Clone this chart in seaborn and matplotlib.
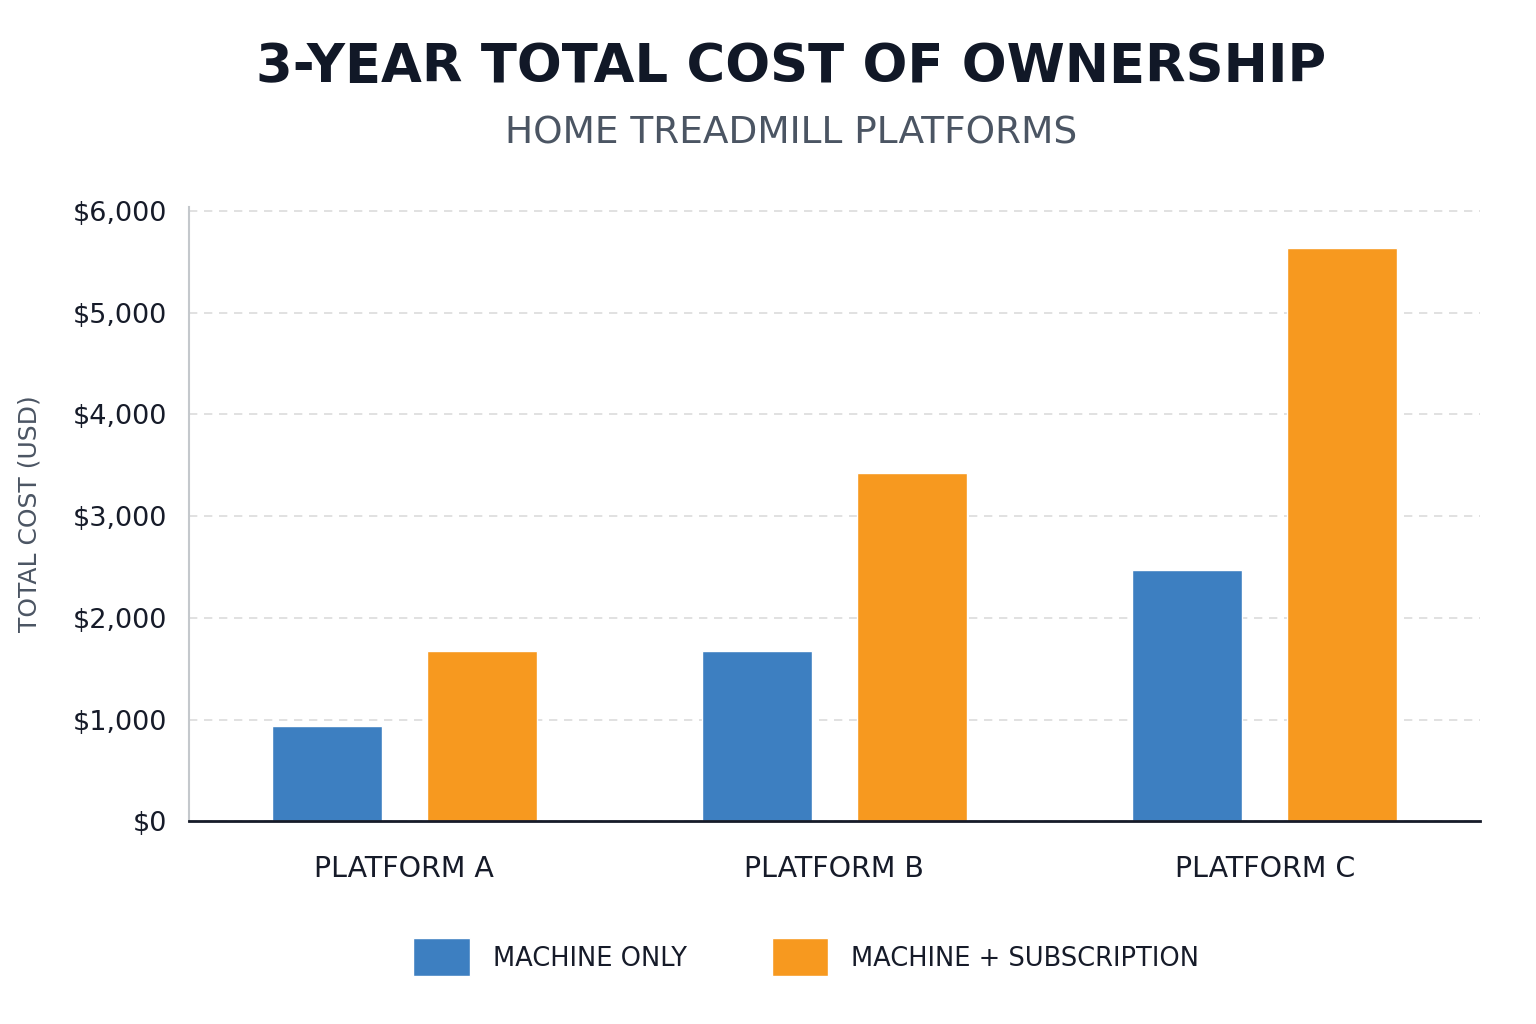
import pandas as pd
import matplotlib.pyplot as plt
import seaborn as sns
from matplotlib.ticker import FuncFormatter

# данные
platforms = ['PLATFORM A', 'PLATFORM B', 'PLATFORM C']
machine_only = [940, 1670, 2470]
machine_sub = [1670, 3420, 5640]
series = ['MACHINE ONLY', 'MACHINE + SUBSCRIPTION']
colors = ['#3d7fc1', '#f7991f']

df = pd.DataFrame({
    'Platform': platforms * 2,
    'Plan': [series[0]] * 3 + [series[1]] * 3,
    'Cost': machine_only + machine_sub,
})

sns.set_theme(style='white')
plt.rcParams['font.family'] = ['DejaVu Sans']

fig = plt.figure(figsize=(15.36, 10.24), dpi=100)
ax = fig.add_axes([0.123, 0.198, 0.8405, 0.600])

sns.barplot(data=df, x='Platform', y='Cost', hue='Plan', palette=colors,
            width=0.72, gap=0.29, saturation=1, ax=ax, errorbar=None)

ax.set_ylim(0, 6040)
ax.set_xlim(-0.5, 2.5)
ax.set_yticks(range(0, 6001, 1000))
ax.yaxis.set_major_formatter(FuncFormatter(lambda v, p: f'${v:,.0f}'))
ax.grid(axis='y', color='#dcdcdc', linestyle=(0, (5, 4)), linewidth=1.2)
ax.set_axisbelow(True)

for s in ['top', 'right']:
    ax.spines[s].set_visible(False)
ax.spines['left'].set_color('#c4c8cc')
ax.spines['left'].set_linewidth(1.5)
ax.spines['bottom'].set_color('#161b29')
ax.spines['bottom'].set_linewidth(2)

ax.tick_params(axis='y', labelsize=19.5, colors='#161b29', length=0, pad=16)
ax.tick_params(axis='x', labelsize=20.5, colors='#161b29', length=0, pad=24)
ax.set_xlabel('')
ax.set_ylabel('TOTAL COST (USD)', fontsize=18, color='#4b5563', labelpad=22)

fig.text(0.515, 0.935, '3-YEAR TOTAL COST OF OWNERSHIP', ha='center', va='center',
         fontsize=38, fontweight='bold', color='#111827')
fig.text(0.515, 0.870, 'HOME TREADMILL PLATFORMS', ha='center', va='center',
         fontsize=27, color='#4b5563')

sns.move_legend(ax, 'center', bbox_to_anchor=(0.525, 0.065), bbox_transform=fig.transFigure,
                ncol=2, frameon=False, title=None, fontsize=18.5,
                handlelength=2.2, handleheight=1.9, columnspacing=3.3, handletextpad=0.9)
for t in ax.get_legend().get_texts():
    t.set_color('#161b29')

fig.savefig('out.png', dpi=100, facecolor='white')
